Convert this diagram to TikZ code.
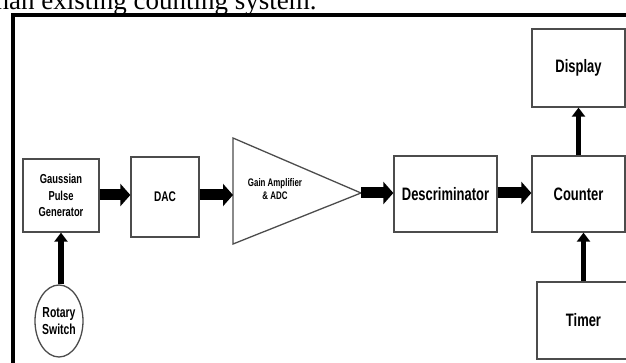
\documentclass[tikz,border=0pt]{standalone}
\usepackage{fontspec}
\setmainfont{Liberation Serif}
\newfontfamily\lab{Liberation Sans}[FakeStretch=0.72]
\usetikzlibrary{arrows.meta,shapes.geometric}
\begin{document}
\begin{tikzpicture}[x=1pt,y=-1pt,
  blk/.style={draw=black!70,line width=1.3pt,rectangle,align=center,inner sep=0pt,font=\lab\bfseries},
  harrow/.style={line width=11pt,-{Triangle[length=10pt,width=22pt]}},
  varrow/.style={line width=5.5pt,-{Triangle[length=9pt,width=13pt]}}]
\useasboundingbox (0,0) rectangle (626,363);
% clipped caption text
\node[anchor=base west,inner sep=0pt,font=\fontsize{27}{30}\selectfont] (cap) at (-12,9.5) {than existing counting system.};
% frame
\draw[line width=4.5pt] (13,370) -- (13,15) -- (640,15);
% blocks
\node[blk,minimum width=76pt,minimum height=73pt,font=\lab\bfseries\fontsize{13}{16.5}\selectfont] (gauss) at (61,195.5) {Gaussian\\Pulse\\Generator};
\node[blk,minimum width=68pt,minimum height=80pt,font=\lab\bfseries\fontsize{14}{16}\selectfont] (dac) at (165,197) {DAC};
\draw[draw=black!70,line width=1.3pt] (233,138) -- (361,193) -- (233,244) -- cycle;
\coordinate (ampin) at (233,195);
\coordinate (ampout) at (361,193);
\node[align=center,inner sep=0pt,font=\lab\bfseries\fontsize{11}{12.5}\selectfont] (amp) at (275,189) {Gain Amplifier\\\& ADC};
\node[blk,minimum width=103pt,minimum height=76pt,font=\lab\bfseries\fontsize{18}{20}\selectfont] (desc) at (445.5,194) {Descriminator};
\node[blk,minimum width=93pt,minimum height=76pt,font=\lab\bfseries\fontsize{18}{20}\selectfont] (counter) at (578.5,194) {Counter};
\node[blk,minimum width=93pt,minimum height=78pt,font=\lab\bfseries\fontsize{18}{20}\selectfont] (display) at (578.5,68) {Display};
\node[blk,minimum width=93pt,minimum height=77pt,font=\lab\bfseries\fontsize{18}{20}\selectfont] (timer) at (583.5,320.5) {Timer};
\node[draw=black!70,line width=1.3pt,ellipse,minimum width=48pt,minimum height=72pt,inner sep=0pt,align=center,font=\lab\bfseries\fontsize{14.5}{17}\selectfont] (rotary) at (59,321) {Rotary\\Switch};
% connectors
\draw[harrow] (gauss.east |- 0,195) -- (dac.west |- 0,195);
\draw[harrow] (dac.east |- 0,195) -- (ampin);
\draw[harrow] (ampout) -- (desc.west |- 0,193);
\draw[harrow] (desc.east |- 0,193) -- (counter.west |- 0,193);
\draw[varrow] (counter.north) -- (display.south);
\draw[varrow] (timer.north) -- (counter.south -| timer.north);
\draw[varrow] (rotary.north -| 61,0) -- (gauss.south -| 61,0);
\end{tikzpicture}
\end{document}
